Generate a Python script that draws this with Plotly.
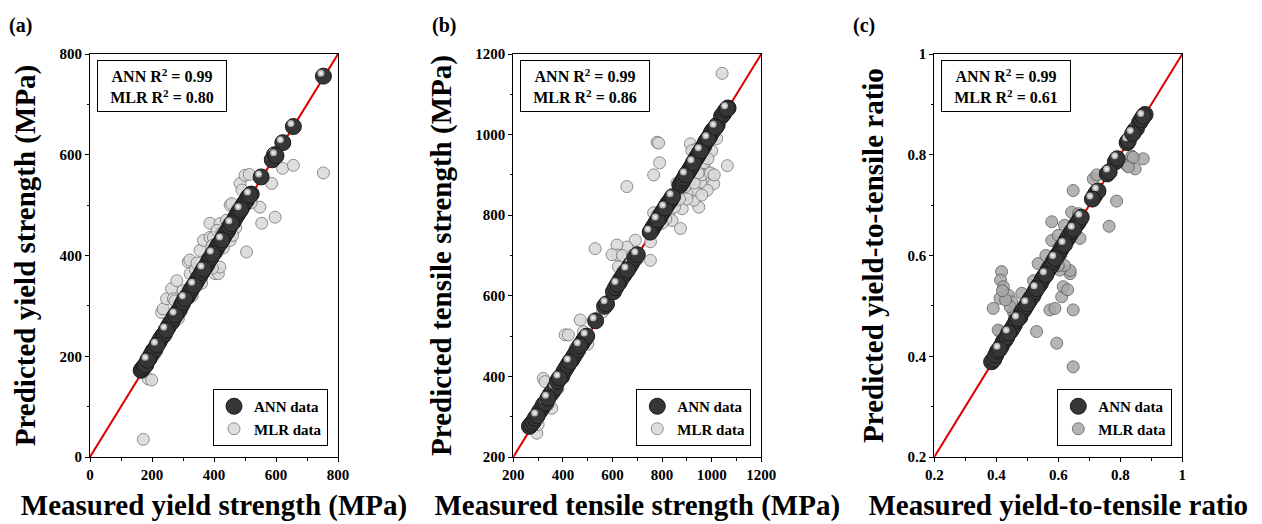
import plotly.graph_objects as go

# ---------------- data ----------------
# (a) yield strength, MPa
ys_ann_measured = [165, 170, 175, 180, 186, 192, 198, 204, 210, 216, 222, 228, 235, 240, 246, 252, 258, 264,
                   270, 276, 282, 288, 295, 300, 306, 312, 318, 324, 330, 336, 342, 348, 354, 360, 366, 372,
                   378, 384, 390, 396, 402, 408, 414, 420, 426, 432, 438, 444, 450, 456, 462, 468, 474, 480,
                   486, 492, 498, 504, 510, 516, 520, 552, 588, 595, 600, 622, 656, 753]
ys_ann_predicted = [172, 176, 180, 183, 192, 197, 204, 211, 214, 222, 228, 235, 241, 244, 252, 258, 265, 268,
                    276, 282, 287, 292, 301, 307, 314, 317, 323, 330, 336, 341, 347, 354, 359, 366, 373, 377,
                    383, 391, 396, 403, 407, 414, 421, 425, 431, 438, 444, 449, 457, 463, 467, 474, 480, 486,
                    491, 498, 504, 509, 516, 520, 522, 556, 590, 600, 598, 624, 656, 756]
ys_mlr_measured = [172, 188, 199, 231, 236, 247, 263, 269, 274, 280, 317, 322, 323, 355, 366, 387, 387, 398,
                   403, 414, 419, 419, 452, 452, 457, 484, 500, 514, 505, 548, 554, 597, 586, 621, 656, 753,
                   210, 250, 290, 300, 340, 345, 360, 380, 395, 410, 430, 440, 470, 475, 490, 510, 520, 330,
                   285, 220, 265, 395, 425, 460, 480]
ys_mlr_predicted = [35, 155, 153, 287, 294, 314, 334, 314, 310, 350, 387, 391, 364, 410, 430, 464, 436, 436,
                    364, 364, 463, 377, 430, 500, 503, 543, 559, 561, 407, 496, 464, 476, 543, 573, 579, 564,
                    205, 262, 300, 330, 372, 385, 345, 395, 420, 450, 415, 470, 455, 492, 530, 520, 505, 320,
                    275, 230, 280, 375, 445, 440, 480]

# (b) tensile strength, MPa
ts_ann_measured = [265, 272, 280, 288, 296, 305, 314, 322, 330, 340, 350, 358, 368, 378, 386, 395, 404, 412,
                   420, 428, 436, 444, 452, 460, 468, 476, 484, 490, 496, 532, 568, 576, 604, 612, 620, 628,
                   636, 644, 652, 660, 668, 676, 690, 700, 752, 758, 764, 770, 776, 782, 788, 794, 800, 806,
                   812, 818, 824, 830, 836, 842, 872, 878, 884, 890, 896, 902, 908, 914, 920, 926, 932, 938,
                   944, 950, 956, 962, 968, 974, 980, 986, 992, 998, 1004, 1010, 1016, 1022, 1040, 1048, 1056,
                   1062, 1066]
ts_ann_predicted = [276, 281, 287, 296, 302, 312, 320, 330, 334, 346, 356, 362, 372, 388, 396, 400, 412, 420,
                    428, 436, 442, 450, 458, 466, 476, 482, 490, 495, 500, 538, 574, 580, 610, 620, 628, 634,
                    644, 650, 658, 664, 672, 680, 694, 702, 758, 764, 770, 776, 782, 788, 792, 800, 806, 812,
                    818, 824, 830, 834, 840, 846, 874, 880, 886, 892, 900, 904, 910, 916, 922, 930, 936, 942,
                    948, 954, 960, 966, 972, 980, 986, 990, 996, 1004, 1010, 1014, 1018, 1024, 1046, 1052, 1060,
                    1064, 1066]
ts_mlr_measured = [1042, 1063, 780, 786, 790, 766, 658, 914, 941, 982, 988, 1008, 982, 948, 928, 934, 955, 881,
                   874, 867, 827, 840, 766, 753, 753, 692, 658, 618, 620, 598, 530, 624, 470, 409, 422, 483,
                   321, 328, 355, 295, 901, 890, 910, 960, 970, 1000, 1020, 920, 850, 815, 800, 860, 760, 780,
                   640, 680, 700, 560, 500, 450, 430, 380, 340, 300, 620, 640, 900, 960, 995, 1010, 870, 850,
                   985, 930, 945]
ts_mlr_predicted = [1152, 923, 981, 979, 930, 900, 871, 977, 966, 907, 899, 878, 862, 820, 837, 862, 882, 816,
                    767, 845, 804, 787, 806, 734, 688, 738, 721, 726, 701, 702, 717, 672, 540, 503, 503, 511,
                    395, 387, 321, 259, 853, 870, 890, 900, 930, 960, 990, 960, 820, 790, 780, 880, 760, 800,
                    700, 700, 690, 560, 480, 470, 440, 370, 330, 280, 640, 660, 840, 850, 905, 900, 840, 850,
                    940, 880, 905]

# (c) yield-to-tensile ratio
yr_ann_measured = [0.385, 0.392, 0.398, 0.404, 0.410, 0.416, 0.422, 0.428, 0.434, 0.440, 0.446, 0.452, 0.458,
                   0.464, 0.470, 0.476, 0.482, 0.488, 0.494, 0.500, 0.506, 0.512, 0.518, 0.524, 0.530, 0.536,
                   0.542, 0.548, 0.554, 0.560, 0.566, 0.572, 0.578, 0.584, 0.590, 0.596, 0.602, 0.608, 0.614,
                   0.620, 0.626, 0.632, 0.638, 0.644, 0.650, 0.656, 0.662, 0.668, 0.674, 0.710, 0.716, 0.722,
                   0.728, 0.758, 0.764, 0.784, 0.790, 0.822, 0.826, 0.840, 0.846, 0.852, 0.862, 0.868, 0.874,
                   0.880]
yr_ann_predicted = [0.389, 0.394, 0.402, 0.410, 0.414, 0.420, 0.428, 0.432, 0.438, 0.446, 0.450, 0.456, 0.462,
                    0.470, 0.474, 0.478, 0.488, 0.492, 0.498, 0.504, 0.510, 0.516, 0.520, 0.528, 0.534, 0.540,
                    0.544, 0.552, 0.558, 0.562, 0.570, 0.576, 0.580, 0.588, 0.594, 0.600, 0.604, 0.612, 0.618,
                    0.622, 0.630, 0.636, 0.642, 0.648, 0.652, 0.660, 0.664, 0.670, 0.676, 0.712, 0.718, 0.724,
                    0.728, 0.762, 0.766, 0.786, 0.792, 0.824, 0.828, 0.842, 0.848, 0.852, 0.864, 0.870, 0.876,
                    0.880]
yr_mlr_measured = [0.648, 0.595, 0.530, 0.412, 0.406, 0.390, 0.417, 0.414, 0.423, 0.412, 0.439, 0.450, 0.455,
                   0.445, 0.482, 0.535, 0.573, 0.589, 0.648, 0.611, 0.616, 0.630, 0.638, 0.638, 0.605, 0.579,
                   0.579, 0.648, 0.643, 0.665, 0.670, 0.713, 0.724, 0.788, 0.764, 0.821, 0.837, 0.848, 0.874,
                   0.826, 0.842, 0.430, 0.420, 0.460, 0.520, 0.560, 0.600, 0.620, 0.500, 0.470, 0.440, 0.620,
                   0.660, 0.600]
yr_mlr_predicted = [0.379, 0.426, 0.449, 0.449, 0.452, 0.495, 0.568, 0.551, 0.538, 0.515, 0.521, 0.508, 0.488,
                    0.498, 0.525, 0.584, 0.492, 0.495, 0.492, 0.518, 0.538, 0.532, 0.564, 0.570, 0.571, 0.630,
                    0.667, 0.729, 0.686, 0.683, 0.634, 0.752, 0.760, 0.708, 0.658, 0.779, 0.797, 0.772, 0.792,
                    0.776, 0.795, 0.512, 0.530, 0.480, 0.550, 0.600, 0.640, 0.660, 0.500, 0.470, 0.440, 0.580,
                    0.660, 0.580]

r2_ann = ["0.99", "0.99", "0.99"]
r2_mlr = ["0.80", "0.86", "0.61"]
panel_tags = ["(a)", "(b)", "(c)"]
x_titles = ["Measured yield strength (MPa)", "Measured tensile strength (MPa)",
            "Measured yield-to-tensile ratio"]
y_titles = ["Predicted yield strength (MPa)", "Predicted tensile strength (MPa)",
            "Predicted yield-to-tensile ratio"]
axis_ranges = [[0, 800], [200, 1200], [0.2, 1.0]]
axis_dticks = [200, 200, 0.2]

panels = [
    dict(ann=(ys_ann_measured, ys_ann_predicted), mlr=(ys_mlr_measured, ys_mlr_predicted),
         mlr_fill="#d9d9d9", mlr_line="#7a7a7a"),
    dict(ann=(ts_ann_measured, ts_ann_predicted), mlr=(ts_mlr_measured, ts_mlr_predicted),
         mlr_fill="#d9d9d9", mlr_line="#7a7a7a"),
    dict(ann=(yr_ann_measured, yr_ann_predicted), mlr=(yr_mlr_measured, yr_mlr_predicted),
         mlr_fill="#a8a8a8", mlr_line="#5e5e5e"),
]

# ---------------- layout geometry (pixels) ----------------
W, H = 1262, 524
PLOT_LEFT = [90, 513.3, 934.3]
PLOT_W = 248
PLOT_TOP, PLOT_BOTTOM = 54, 457
PLOT_H = PLOT_BOTTOM - PLOT_TOP

SERIF = "Liberation Serif"
SPHERE_SIZE = 16
SPHERE_GROUPS = 5


def px_x(p):
    return p / W


def px_y(p):
    return (H - p) / H


fig = go.Figure()

for i, panel in enumerate(panels):
    sfx = "" if i == 0 else str(i + 1)
    xa, ya = "x" + sfx, "y" + sfx
    leg = "legend" + sfx
    lo, hi = axis_ranges[i]
    span = hi - lo

    # 1:1 reference line across the full axis range
    fig.add_trace(go.Scatter(x=axis_ranges[i], y=axis_ranges[i], mode="lines",
                             line=dict(color="#e00000", width=2), xaxis=xa, yaxis=ya,
                             showlegend=False, hoverinfo="skip"))

    # MLR predictions
    mx, my = panel["mlr"]
    fig.add_trace(go.Scatter(x=mx, y=my, mode="markers", name="<b>MLR data</b>", xaxis=xa, yaxis=ya,
                             legend=leg, legendrank=2,
                             marker=dict(size=12, color=panel["mlr_fill"], opacity=0.85,
                                         line=dict(color=panel["mlr_line"], width=1))))

    # ANN predictions: dark spheres with a specular highlight, drawn in interleaved groups
    ax_, ay_ = panel["ann"]
    hx_off = -2.5 * span / PLOT_W
    hy_off = 3.0 * span / PLOT_H
    for g in range(SPHERE_GROUPS):
        gx = ax_[g::SPHERE_GROUPS]
        gy = ay_[g::SPHERE_GROUPS]
        fig.add_trace(go.Scatter(x=gx, y=gy, mode="markers", name="<b>ANN data</b>", xaxis=xa, yaxis=ya,
                                 legend=leg, legendgroup="ann" + sfx, legendrank=1,
                                 showlegend=(g == 0),
                                 marker=dict(size=SPHERE_SIZE, color="#363636",
                                             line=dict(color="#1c1c1c", width=1))))
        fig.add_trace(go.Scatter(x=[v + hx_off for v in gx], y=[v + hy_off for v in gy],
                                 mode="markers", xaxis=xa, yaxis=ya, showlegend=False,
                                 hoverinfo="skip", legendgroup="ann" + sfx,
                                 marker=dict(size=7, color="#a0a0a0",
                                             gradient=dict(type="radial", color="#ffffff"),
                                             line=dict(width=0))))

    left = PLOT_LEFT[i]
    tick_font = dict(family=SERIF, size=15, color="black", weight=700)
    title_font = dict(family=SERIF, size=29, color="black", weight=700)
    common = dict(range=axis_ranges[i], dtick=axis_dticks[i], tick0=lo, ticks="outside",
                  ticklen=4, tickwidth=1, tickcolor="black", showline=True, linecolor="black",
                  linewidth=1, mirror=True, showgrid=False, zeroline=False, tickfont=tick_font,
                  tickprefix="<b>", ticksuffix="</b>", automargin=False,
                  minor=dict(dtick=axis_dticks[i] / 2, ticks="outside", ticklen=2.5,
                             tickcolor="black", showgrid=False))
    fig.update_layout({
        "xaxis" + sfx: dict(common, domain=[px_x(left), px_x(left + PLOT_W)], anchor=ya,
                            title=dict(text=x_titles[i], font=title_font, standoff=12)),
        "yaxis" + sfx: dict(common, domain=[px_y(PLOT_BOTTOM), px_y(PLOT_TOP)], anchor=xa,
                            title=dict(text=y_titles[i], font=title_font, standoff=15)),
        leg: dict(x=px_x(left + 238), y=px_y(446), xanchor="right", yanchor="bottom",
                  bgcolor="white", bordercolor="black", borderwidth=1,
                  font=dict(family=SERIF, size=15, color="black", weight=700),
                  tracegroupgap=0, itemsizing="trace"),
    })

    # R² summary box
    fig.add_annotation(xref="paper", yref="paper", x=px_x(left + 7), y=px_y(60),
                       xanchor="left", yanchor="top", showarrow=False, align="center",
                       text=f"<b>ANN R<sup>2</sup> = {r2_ann[i]}<br>MLR R<sup>2</sup> = {r2_mlr[i]}</b>",
                       font=dict(family=SERIF, size=16, color="black", weight=700),
                       width=122, height=44, borderpad=3, bordercolor="black", borderwidth=1,
                       bgcolor="white")

    # panel tag
    fig.add_annotation(xref="paper", yref="paper", x=px_x(left - 83), y=px_y(12),
                       xanchor="left", yanchor="top", showarrow=False, text=panel_tags[i],
                       font=dict(family=SERIF, size=20, color="black", weight=700))

fig.update_layout(width=W, height=H, margin=dict(l=0, r=0, t=0, b=0),
                  paper_bgcolor="white", plot_bgcolor="white")

fig.write_html("out.html")
